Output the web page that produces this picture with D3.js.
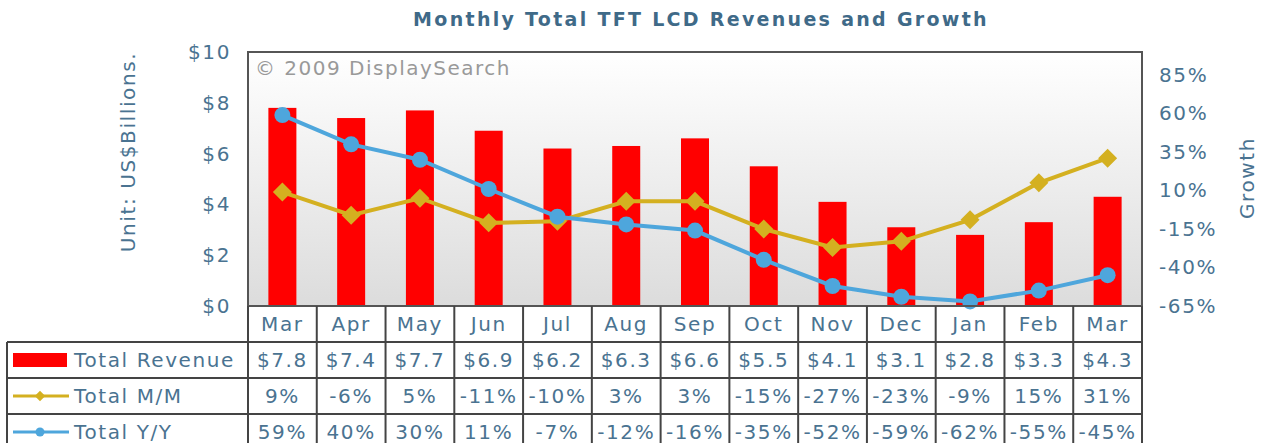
<!DOCTYPE html>
<html>
<head>
<meta charset="utf-8">
<script src="https://cdn.jsdelivr.net/npm/d3@7"></script>
<style>
  body { margin: 0; background: #fff; }
  svg text { font-family: "DejaVu Sans", Verdana, sans-serif; letter-spacing: 1.6px; }
</style>
</head>
<body>
<div id="chart"></div>
<script>
// data
var months = ["Mar", "Apr", "May", "Jun", "Jul", "Aug", "Sep", "Oct", "Nov", "Dec", "Jan", "Feb", "Mar"];
var revenue = [7.8, 7.4, 7.7, 6.9, 6.2, 6.3, 6.6, 5.5, 4.1, 3.1, 2.8, 3.3, 4.3];
var growthMM = [9, -6, 5, -11, -10, 3, 3, -15, -27, -23, -9, 15, 31];
var growthYY = [59, 40, 30, 11, -7, -12, -16, -35, -52, -59, -62, -55, -45];
var leftTicks = [0, 2, 4, 6, 8, 10];
var rightTicks = [-65, -40, -15, 10, 35, 60, 85];

var textColor = "#4a7391",
    redColor = "#ff0000",
    goldColor = "#d4b020",
    blueColor = "#4ea6dc",
    gridColor = "#444";

var W = 1271, H = 443;
// plot area
var pLeft = 248, pRight = 1142, pTop = 52, pBottom = 306;
var rowH = 36;
var tableLeft = 7;
var fs = 20;

var svg = d3.select("#chart").append("svg")
    .attr("width", W)
    .attr("height", H);

var idx = d3.range(months.length);

var x = d3.scaleBand().domain(idx).range([pLeft, pRight]);
var y = d3.scaleLinear().domain([0, 10]).range([pBottom, pTop]);
var y2 = d3.scaleLinear().domain([-65, 100]).range([pBottom, pTop]);

// background gradient
var defs = svg.append("defs");
var grad = defs.append("linearGradient")
    .attr("id", "bg").attr("x1", 0).attr("y1", 0).attr("x2", 0).attr("y2", 1);
grad.append("stop").attr("offset", "0%").attr("stop-color", "#ffffff");
grad.append("stop").attr("offset", "100%").attr("stop-color", "#dcdcdc");

svg.append("rect")
    .attr("x", pLeft).attr("y", pTop)
    .attr("width", pRight - pLeft).attr("height", pBottom - pTop)
    .attr("fill", "url(#bg)");

// title
svg.append("text")
    .attr("x", 701).attr("y", 26)
    .attr("text-anchor", "middle")
    .attr("font-size", 19)
    .attr("font-weight", "bold")
    .attr("fill", "#3f6a88")
    .style("letter-spacing", "2.3px")
    .text("Monthly Total TFT LCD Revenues and Growth");

// copyright
svg.append("text")
    .attr("x", 255).attr("y", 75)
    .attr("font-size", fs)
    .attr("fill", "#999")
    .style("letter-spacing", "1.5px")
    .text("\u00a9 2009 DisplaySearch");

// bars
var barW = 28;
svg.selectAll("rect.bar")
    .data(revenue)
  .enter().append("rect")
    .attr("class", "bar")
    .attr("x", function(d, i) { return x(i) + x.bandwidth() / 2 - barW / 2; })
    .attr("y", function(d) { return y(d); })
    .attr("width", barW)
    .attr("height", function(d) { return pBottom - y(d); })
    .attr("fill", redColor);

var cx = function(d, i) { return x(i) + x.bandwidth() / 2; };

// M/M line
var lineMM = d3.line().x(cx).y(function(d) { return y2(d); });
svg.append("path")
    .datum(growthMM)
    .attr("d", lineMM)
    .attr("fill", "none")
    .attr("stroke", goldColor)
    .attr("stroke-width", 4);

svg.selectAll("path.dia")
    .data(growthMM)
  .enter().append("path")
    .attr("class", "dia")
    .attr("d", d3.symbol().type(d3.symbolDiamond2).size(230))
    .attr("transform", function(d, i) { return "translate(" + cx(d, i) + "," + y2(d) + ")"; })
    .attr("fill", goldColor);

// Y/Y line
var lineYY = d3.line().x(cx).y(function(d) { return y2(d); });
svg.append("path")
    .datum(growthYY)
    .attr("d", lineYY)
    .attr("fill", "none")
    .attr("stroke", blueColor)
    .attr("stroke-width", 4);

svg.selectAll("circle.dot")
    .data(growthYY)
  .enter().append("circle")
    .attr("class", "dot")
    .attr("cx", cx)
    .attr("cy", function(d) { return y2(d); })
    .attr("r", 8)
    .attr("fill", blueColor);

// plot border
svg.append("rect")
    .attr("x", pLeft).attr("y", pTop)
    .attr("width", pRight - pLeft).attr("height", pBottom - pTop)
    .attr("fill", "none")
    .attr("stroke", "#555")
    .attr("stroke-width", 2);

// left axis
var axL = svg.append("g")
    .attr("transform", "translate(" + pLeft + ",0)")
    .call(d3.axisLeft(y).tickValues(leftTicks).tickSize(0).tickPadding(17)
        .tickFormat(function(d) { return "$" + d; }));
axL.select(".domain").remove();
axL.selectAll("text").attr("font-size", fs).attr("fill", textColor)
    .style("font-family", "DejaVu Sans, Verdana, sans-serif");

// right axis
var axR = svg.append("g")
    .attr("transform", "translate(" + pRight + ",0)")
    .call(d3.axisRight(y2).tickValues(rightTicks).tickSize(0).tickPadding(17)
        .tickFormat(function(d) { return d + "%"; }));
axR.select(".domain").remove();
axR.selectAll("text").attr("font-size", fs).attr("fill", textColor)
    .style("font-family", "DejaVu Sans, Verdana, sans-serif");

// axis titles
svg.append("text")
    .attr("transform", "translate(135,152)rotate(-90)")
    .attr("text-anchor", "middle")
    .attr("font-size", fs)
    .attr("fill", textColor)
    .text("Unit: US$Billions.");

svg.append("text")
    .attr("transform", "translate(1254,178)rotate(-90)")
    .attr("text-anchor", "middle")
    .attr("font-size", fs)
    .attr("fill", textColor)
    .text("Growth");

// data table
var rows = [
  { name: "Total Revenue", values: revenue.map(function(d) { return "$" + d.toFixed(1); }) },
  { name: "Total M/M", values: growthMM.map(function(d) { return d + "%"; }) },
  { name: "Total Y/Y", values: growthYY.map(function(d) { return d + "%"; }) }
];

var table = svg.append("g");
var tableBottom = pBottom + rowH * 4;

// month header
table.selectAll("text.month")
    .data(months)
  .enter().append("text")
    .attr("class", "month")
    .attr("x", cx)
    .attr("y", pBottom + rowH / 2 + 7)
    .attr("text-anchor", "middle")
    .attr("font-size", fs)
    .attr("fill", textColor)
    .text(function(d) { return d; });

rows.forEach(function(r, ri) {
  var ry = pBottom + rowH * (ri + 1);
  table.selectAll("text.v" + ri)
      .data(r.values)
    .enter().append("text")
      .attr("x", cx)
      .attr("y", ry + rowH / 2 + 7)
      .attr("text-anchor", "middle")
      .attr("font-size", fs)
      .attr("fill", textColor)
      .text(function(d) { return d; });
  table.append("text")
      .attr("x", 74)
      .attr("y", ry + rowH / 2 + 7)
      .attr("font-size", fs)
      .attr("fill", textColor)
      .text(r.name);
});

// legend symbols
var ly0 = pBottom + rowH * 1.5;
table.append("rect")
    .attr("x", 13).attr("y", ly0 - 7)
    .attr("width", 54).attr("height", 14)
    .attr("fill", redColor);
var ly1 = pBottom + rowH * 2.5;
table.append("line")
    .attr("x1", 13).attr("x2", 69).attr("y1", ly1).attr("y2", ly1)
    .attr("stroke", goldColor).attr("stroke-width", 3);
table.append("path")
    .attr("d", d3.symbol().type(d3.symbolDiamond2).size(70))
    .attr("transform", "translate(40," + ly1 + ")")
    .attr("fill", goldColor);
var ly2 = pBottom + rowH * 3.5;
table.append("line")
    .attr("x1", 13).attr("x2", 69).attr("y1", ly2).attr("y2", ly2)
    .attr("stroke", blueColor).attr("stroke-width", 3);
table.append("circle")
    .attr("cx", 40).attr("cy", ly2).attr("r", 4.5)
    .attr("fill", blueColor);

// grid lines
for (var k = 1; k <= 4; k++) {
  table.append("line")
      .attr("x1", tableLeft).attr("x2", pRight)
      .attr("y1", pBottom + rowH * k).attr("y2", pBottom + rowH * k)
      .attr("stroke", gridColor).attr("stroke-width", 2);
}
table.append("line")
    .attr("x1", tableLeft).attr("x2", tableLeft)
    .attr("y1", pBottom + rowH).attr("y2", tableBottom)
    .attr("stroke", gridColor).attr("stroke-width", 2);
idx.concat([months.length]).forEach(function(i) {
  var xx = i < months.length ? x(i) : pRight;
  table.append("line")
      .attr("x1", xx).attr("x2", xx)
      .attr("y1", pBottom).attr("y2", tableBottom)
      .attr("stroke", gridColor).attr("stroke-width", 2);
});
</script>
</body>
</html>
